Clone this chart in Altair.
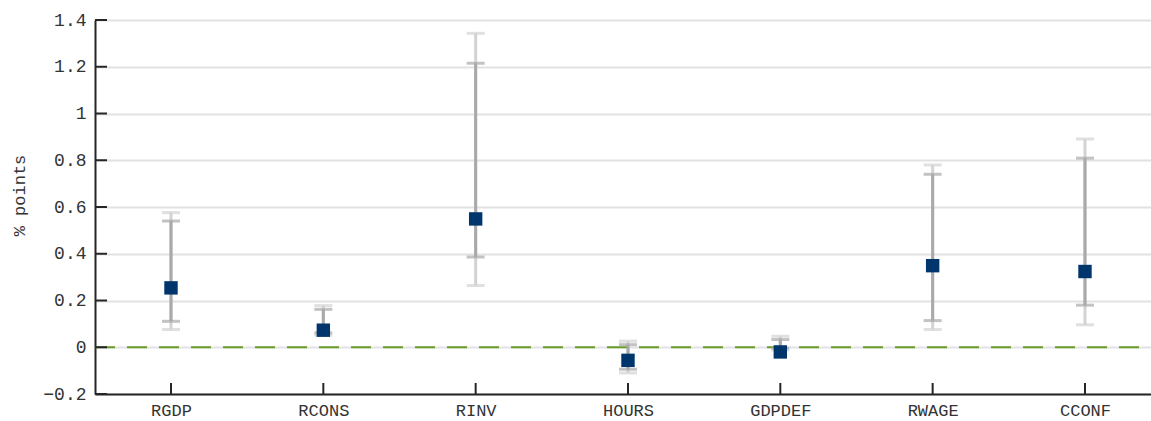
import altair as alt
import pandas as pd

cats = ["RGDP", "RCONS", "RINV", "HOURS", "GDPDEF", "RWAGE", "CCONF"]
point = [0.254, 0.073, 0.549, -0.056, -0.020, 0.349, 0.324]
inner_lo = [0.111, 0.062, 0.386, -0.094, -0.004, 0.114, 0.180]
inner_hi = [0.540, 0.162, 1.215, 0.011, 0.033, 0.740, 0.809]
outer_lo = [0.076, 0.052, 0.264, -0.110, -0.012, 0.076, 0.096]
outer_hi = [0.576, 0.178, 1.343, 0.026, 0.047, 0.780, 0.891]
y_ticks = [-0.2, 0, 0.2, 0.4, 0.6, 0.8, 1, 1.2, 1.4]

df = pd.DataFrame({
    "cat": cats, "idx": list(range(len(cats))), "point": point,
    "ilo": inner_lo, "ihi": inner_hi,
    "olo": outer_lo, "ohi": outer_hi,
})
ticks_df = pd.DataFrame({"v": y_ticks})

W, H = 1056, 374
FONT = "Liberation Mono"
STEP = 152.33
x0 = -76 / STEP
x1 = x0 + W / STEP

label_expr = "[" + ",".join("'%s'" % c for c in cats) + "][datum.value]"

xaxis = alt.Axis(title=None, values=list(range(len(cats))),
                 labelExpr=label_expr, labelFont=FONT,
                 labelFontSize=17, labelColor="#333333",
                 labelPadding=8, tickSize=0, domainColor="#262626",
                 domainWidth=2, grid=False, labelAngle=0,
                 labelFlush=False, labelOverlap=False)
xsc = alt.Scale(domain=[x0, x1], nice=False, zero=False)
xs = alt.X("idx:Q", scale=xsc, axis=xaxis)
ysc = alt.Scale(domain=[-0.2, 1.4], nice=False, zero=False)
yaxis = alt.Axis(title="% points", values=y_ticks, format="~g",
                 labelFont=FONT, labelFontSize=18, labelColor="#333333",
                 labelPadding=9, tickSize=0, domainColor="#262626",
                 domainWidth=2, grid=True, gridColor="#e2e2e2", gridWidth=2,
                 titleFont=FONT, titleFontSize=17, titleFontWeight="normal",
                 titleColor="#333333", titleX=-76, titleY=175, titleAngle=-90,
                 titleAlign="center", titleBaseline="middle",
                 labelFlush=False, labelOverlap=False)

base = alt.Chart(df)


def cap(field, color):
    return base.mark_tick(color=color, size=18, thickness=3,
                          orient="horizontal").encode(
        x=xs, y=alt.Y(field + ":Q", scale=ysc, axis=yaxis))


outer_bar = base.mark_rule(color="#d3d3d3", strokeWidth=3).encode(
    x=xs, y=alt.Y("olo:Q", scale=ysc, axis=yaxis), y2="ohi:Q")
inner_bar = base.mark_rule(color="#a9a9a9", strokeWidth=3).encode(
    x=xs, y=alt.Y("ilo:Q", scale=ysc, axis=yaxis), y2="ihi:Q")
pts = base.mark_square(color="#00366b", size=180, opacity=1).encode(
    x=xs, y=alt.Y("point:Q", scale=ysc, axis=yaxis))

zero = alt.Chart(pd.DataFrame({"z": [0]})).mark_rule(
    color="#6b9c2b", strokeWidth=2, strokeDash=[20, 12]).encode(
    y=alt.Y("z:Q", scale=ysc, axis=yaxis), x=alt.value(0), x2=alt.value(W))

yt = alt.Chart(ticks_df).mark_rule(color="#262626", strokeWidth=2).encode(
    y=alt.Y("v:Q", scale=ysc, axis=yaxis), x=alt.value(0), x2=alt.value(12))
xt = base.mark_rule(color="#262626", strokeWidth=2).encode(
    x=xs, y=alt.value(H), y2=alt.value(H - 11))

chart = alt.layer(
    outer_bar, zero, cap("olo", "#d3d3d3"), cap("ohi", "#d3d3d3"),
    inner_bar, cap("ilo", "#a9a9a9"), cap("ihi", "#a9a9a9"), pts, yt, xt
).properties(
    width=W, height=H,
    autosize=alt.AutoSizeParams(type="none"),
    padding={"left": 95, "top": 20, "right": 0, "bottom": 27},
    background="white",
).configure_view(stroke=None)

chart.save("out.html", embed_options={"renderer": "svg", "actions": False})
